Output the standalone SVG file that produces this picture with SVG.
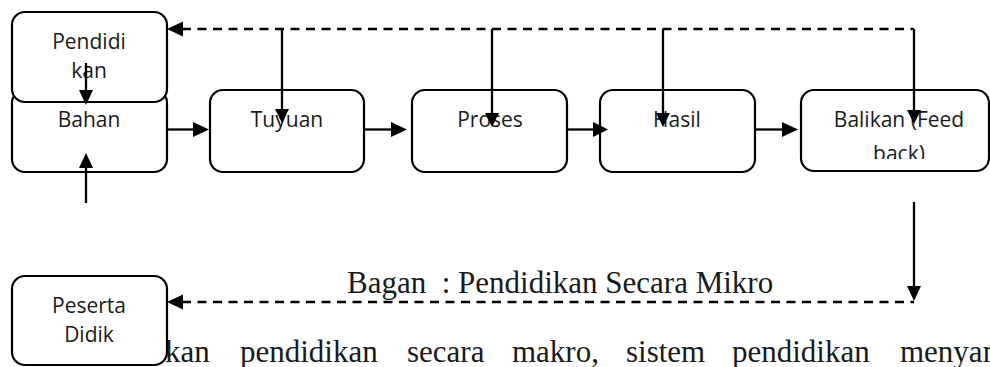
<svg xmlns="http://www.w3.org/2000/svg" width="990" height="367" viewBox="0 0 990 367">
  <style>
    .box { fill: #ffffff; stroke: #000000; stroke-width: 2.2; }
    .lbl { font-family: "Open Sans", "Noto Sans", sans-serif; font-size: 21px; fill: #1a1a1a; text-anchor: middle; }
    .serif { font-family: "Liberation Serif", "Times New Roman", serif; font-size: 31px; fill: #1a1a1a; }
    .ln { fill: none; stroke: #000000; stroke-width: 2.3; }
    .dash { fill: none; stroke: #000000; stroke-width: 2.3; stroke-dasharray: 9 6.5; }
    .head { fill: #000000; }
  </style>
  <defs>
    <clipPath id="balikanClip">
      <rect x="801" y="90" width="188" height="69"/>
    </clipPath>
  </defs>

  <!-- body text running beneath the figure -->
  <g id="body-text" class="serif">
    <text x="165" y="362">kan</text>
    <text x="240" y="362">pendidikan</text>
    <text x="407" y="362">secara</text>
    <text x="512" y="362">makro,</text>
    <text x="626" y="362">sistem</text>
    <text x="732" y="362">pendidikan</text>
    <text x="900" y="362">menyan</text>
  </g>

  <!-- caption -->
  <text id="caption" class="serif" x="347" y="293" xml:space="preserve">Bagan  : Pendidikan Secara Mikro</text>

  <!-- nodes -->
  <g id="bahan">
    <rect class="box" x="12" y="90" width="155" height="82" rx="13"/>
    <text class="lbl" x="89" y="127">Bahan</text>
  </g>
  <g id="pendidikan">
    <rect class="box" x="12" y="12" width="155" height="90" rx="13"/>
    <text class="lbl" x="89" y="49">Pendidi</text>
    <text class="lbl" x="89" y="78">kan</text>
  </g>
  <g id="tujuan">
    <rect class="box" x="210" y="90" width="154" height="82" rx="13"/>
    <text class="lbl" x="287" y="127">Tuyuan</text>
  </g>
  <g id="proses">
    <rect class="box" x="412" y="90" width="155" height="82" rx="13"/>
    <text class="lbl" x="490" y="127">Proses</text>
  </g>
  <g id="hasil">
    <rect class="box" x="600" y="90" width="155" height="82" rx="13"/>
    <text class="lbl" x="677" y="127">Hasil</text>
  </g>
  <g id="balikan">
    <rect class="box" x="801" y="90" width="188" height="81" rx="13"/>
    <g clip-path="url(#balikanClip)">
      <text class="lbl" x="899" y="127">Balikan (Feed</text>
      <text class="lbl" x="899" y="161">back)</text>
    </g>
  </g>
  <g id="peserta-didik">
    <rect class="box" x="12" y="276" width="155" height="89" rx="13"/>
    <text class="lbl" x="89" y="313">Peserta</text>
    <text class="lbl" x="89" y="342">Didik</text>
  </g>

  <!-- connectors -->
  <g id="connectors">
    <!-- dashed feedback line along the top -->
    <line class="dash" x1="182" y1="29" x2="914" y2="29"/>
    <polygon class="head" points="167,29 183,21.5 183,36.5"/>

    <!-- drops from the feedback line into each stage -->
    <line class="ln" x1="282" y1="29" x2="282" y2="110"/>
    <polygon class="head" points="282,123 275,109 289,109"/>
    <line class="ln" x1="492" y1="29" x2="492" y2="114"/>
    <polygon class="head" points="492,127 485,113 499,113"/>
    <line class="ln" x1="663" y1="29" x2="663" y2="114"/>
    <polygon class="head" points="663,127 656,113 670,113"/>
    <line class="ln" x1="914" y1="29" x2="914" y2="111"/>
    <polygon class="head" points="914,124 907,110 921,110"/>

    <!-- Pendidikan down into Bahan -->
    <line class="ln" x1="86" y1="63" x2="86" y2="92"/>
    <polygon class="head" points="86,105 79,90 93,90"/>
    <!-- input rising into Bahan -->
    <line class="ln" x1="86" y1="203" x2="86" y2="166"/>
    <polygon class="head" points="86,153 79,168 93,168"/>

    <!-- main flow -->
    <line class="ln" x1="167" y1="129.5" x2="195" y2="129.5"/>
    <polygon class="head" points="209,129.5 193,122 193,137"/>
    <line class="ln" x1="364" y1="129.5" x2="392" y2="129.5"/>
    <polygon class="head" points="407,129.5 391,122 391,137"/>
    <line class="ln" x1="567" y1="129.5" x2="594" y2="129.5"/>
    <polygon class="head" points="608,129.5 593,122 593,137"/>
    <line class="ln" x1="755" y1="129.5" x2="784" y2="129.5"/>
    <polygon class="head" points="798,129.5 782,122 782,137"/>

    <!-- feedback down the right and back to Peserta Didik -->
    <line class="ln" x1="914" y1="202" x2="914" y2="288"/>
    <polygon class="head" points="914,301 907,286 921,286"/>
    <line class="dash" x1="182" y1="302" x2="914" y2="302"/>
    <polygon class="head" points="167,302 183,294.5 183,309.5"/>
  </g>
</svg>
